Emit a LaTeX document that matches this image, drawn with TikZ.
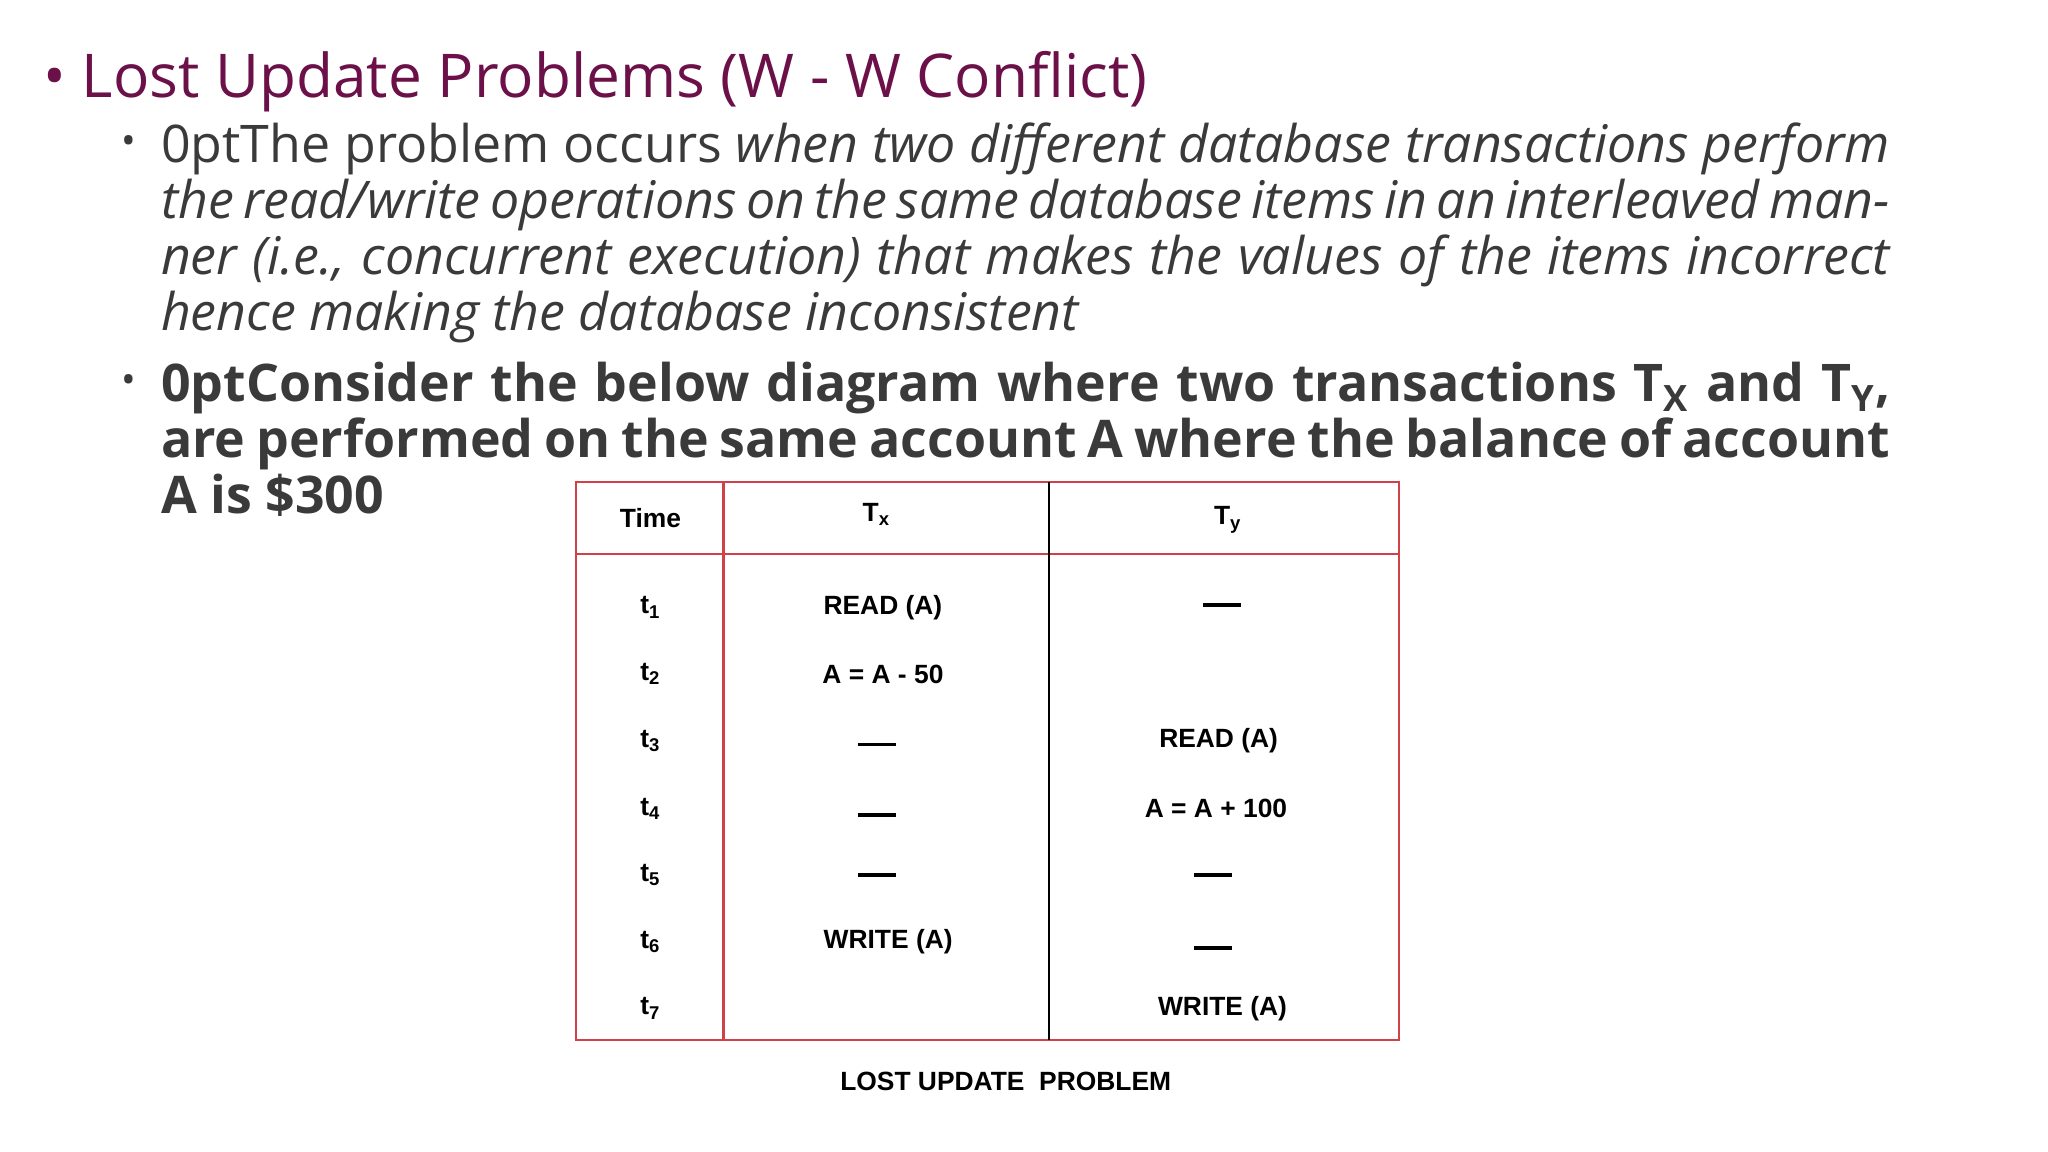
\documentclass[tikz,border=0pt]{standalone}
\usepackage{fontspec}
\setmainfont{Open Sans}
\newfontfamily\tabfont{Liberation Sans}
\definecolor{ttl}{HTML}{6B1048}
\definecolor{bodyc}{HTML}{3A3A3A}
\definecolor{tred}{HTML}{D0414A}
\begin{document}
\begin{tikzpicture}[x=0.02cm,y=-0.02cm,
  para/.style={anchor=north west,inner sep=0pt,text width=26.48cm,align=justify,text=bodyc,font=\fontsize{22.6}{24.4}\selectfont\hyphenpenalty=10000\exhyphenpenalty=10000},
  cell/.style={font=\tabfont\bfseries\fontsize{11.5}{13}\selectfont,text=black,inner sep=0pt},
  dashmark/.style={draw=black,line width=1.6pt}]
\useasboundingbox (0,0) rectangle (1568,882);
\node[anchor=base west,inner sep=0pt,text=ttl,font=\fontsize{26.3}{30}\selectfont] (title) at (33,75) {\textbullet\ Lost Update Problems (W - W Conflict)};
\node[anchor=base west,inner sep=0pt,text=bodyc,font=\fontsize{17}{18}\selectfont] (b1) at (93,118) {\textbullet};
\node[para] (p1) at (123,94) {The problem occurs \textit{when two different database transactions perform the read/write operations on the same database items in an interleaved manner (i.e., concurrent execution) that makes the values of the items incorrect hence making the database inconsistent}};
\node[anchor=base west,inner sep=0pt,text=bodyc,font=\fontsize{17}{18}\selectfont] (b2) at (93,301) {\textbullet};
\node[para,font=\bfseries\fontsize{22.6}{24.4}\selectfont\hyphenpenalty=10000] (p2) at (123,277) {Consider the below diagram where two transactions T\textsubscript{X} and T\textsubscript{Y}, are performed on the same account A where the balance of account A is \$300};
% table
\draw[tred,line width=1pt] (441,369) rectangle (1071,796);
\draw[tred,line width=1pt] (441,424) -- (1071,424);
\draw[tred,line width=1pt] (554,369) -- (554,796);
\draw[black,line width=1pt] (803,369) -- (803,796);
\node[cell] (h0) at (498,397) {Time};
\node[cell] (h1) at (671,394) {T\textsubscript{x}};
\node[cell] (h2) at (940,398) {T\textsubscript{y}};
\foreach \i/\y in {1/465,2/516,3/567,4/619,5/670,6/721,7/772}{
  \node[cell] (t\i) at (498,\y) {t\textsubscript{\i}};}
\node[cell] (x1) at (676,465) {READ (A)};
\node[cell] (x2) at (676,516) {A = A - 50};
\node[cell] (x6) at (680,721) {WRITE (A)};
\node[cell] (y3) at (933,567) {READ (A)};
\node[cell] (y4) at (931,619) {A = A + 100};
\node[cell] (y7) at (936,772) {WRITE (A)};
\draw[dashmark] (657,570) -- (686,570);
\draw[dashmark] (657,624) -- (686,624);
\draw[dashmark] (657,670) -- (686,670);
\draw[dashmark] (921,463) -- (950,463);
\draw[dashmark] (914,670) -- (943,670);
\draw[dashmark] (914,726) -- (943,726);
\node[cell] (cap) at (770,828) {LOST UPDATE\ \ PROBLEM};
\end{tikzpicture}
\end{document}
